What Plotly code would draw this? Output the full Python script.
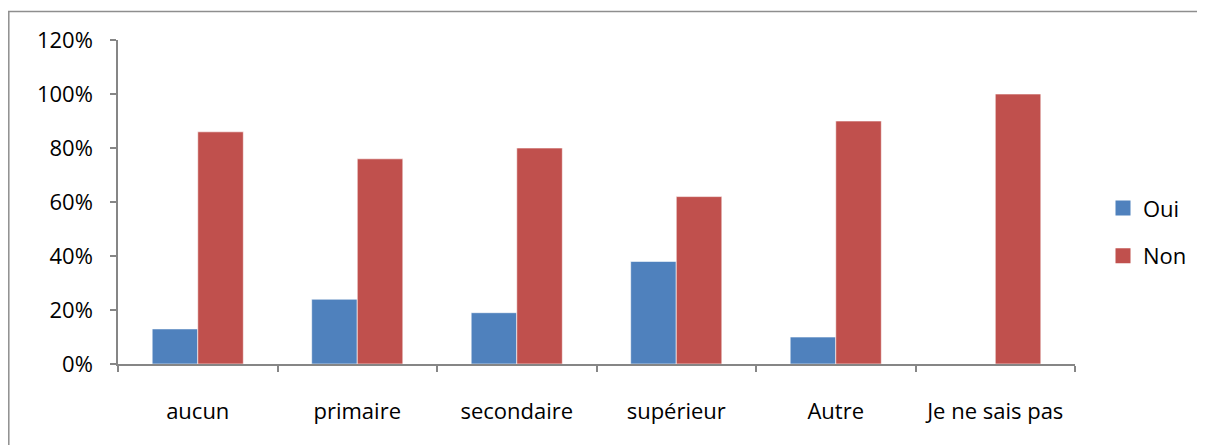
import plotly.graph_objects as go

categories = ["aucun", "primaire", "secondaire", "supérieur", "Autre", "Je ne sais pas"]
oui = [0.13, 0.24, 0.19, 0.38, 0.10, 0.0]
non = [0.86, 0.76, 0.80, 0.62, 0.90, 1.00]
series_names = ["Oui", "Non"]
colors = ["#4F81BD", "#C0504D"]

FONT = "Open Sans"
FS = 22

fig = go.Figure()
for i, (name, vals) in enumerate(zip(series_names, [oui, non])):
    fig.add_trace(go.Bar(
        x=categories, y=vals, name=name,
        marker=dict(color=colors[i], line=dict(color="rgba(255,255,255,0.6)", width=1)),
        showlegend=False,
    ))
# legend-only entries (larger square swatches, like the original)
for i, name in enumerate(series_names):
    fig.add_trace(go.Scatter(
        x=[None], y=[None], mode="markers", name=name,
        marker=dict(symbol="square", size=15, color=colors[i]),
        legendgroup=name, showlegend=True, hoverinfo="skip",
    ))

# page has an 8px body margin; work in figure coordinates
W, H = 1197, 437
L, R, T, B = 110, 130, 31.5, 81
pw = W - L - R
ph = H - T - B

def px_x(p):
    return (p - L) / pw

def px_y(p):
    return (H - B - p) / ph

fig.update_layout(
    width=W, height=H,
    margin=dict(l=L, r=R, t=T, b=B, pad=0),
    paper_bgcolor="white", plot_bgcolor="white",
    barmode="group", bargap=1.5 / 3.5, bargroupgap=0,
    font=dict(family=FONT, size=FS, color="#000000"),
    showlegend=True,
    legend=dict(x=px_x(1095), y=px_y(179), xanchor="left", yanchor="top",
                font=dict(family=FONT, size=FS), tracegroupgap=16,
                itemwidth=30, bgcolor="rgba(0,0,0,0)"),
    xaxis=dict(showline=True, linecolor="#868686", linewidth=1.5,
               ticks="outside", ticklen=6, tickcolor="#868686", tickwidth=1.5,
               tickson="boundaries", showgrid=False, zeroline=False,
               ticklabelstandoff=27, tickfont=dict(family=FONT, size=FS)),
    yaxis=dict(range=[0, 1.2], dtick=0.2, tickformat=".0%",
               showline=True, linecolor="#868686", linewidth=1.5,
               ticks="outside", ticklen=6, tickcolor="#868686", tickwidth=1.5,
               showgrid=False, zeroline=False, ticklabelstandoff=13,
               tickfont=dict(family=FONT, size=FS)),
    shapes=[
        dict(type="line", xref="paper", yref="paper",
             x0=px_x(0), x1=px_x(W), y0=px_y(3), y1=px_y(3),
             line=dict(color="#8E8E8E", width=1.5), layer="below"),
        dict(type="line", xref="paper", yref="paper",
             x0=px_x(0.8), x1=px_x(0.8), y0=px_y(3), y1=px_y(H),
             line=dict(color="#8E8E8E", width=1.5), layer="below"),
    ],
)

fig.write_html("out.html")
